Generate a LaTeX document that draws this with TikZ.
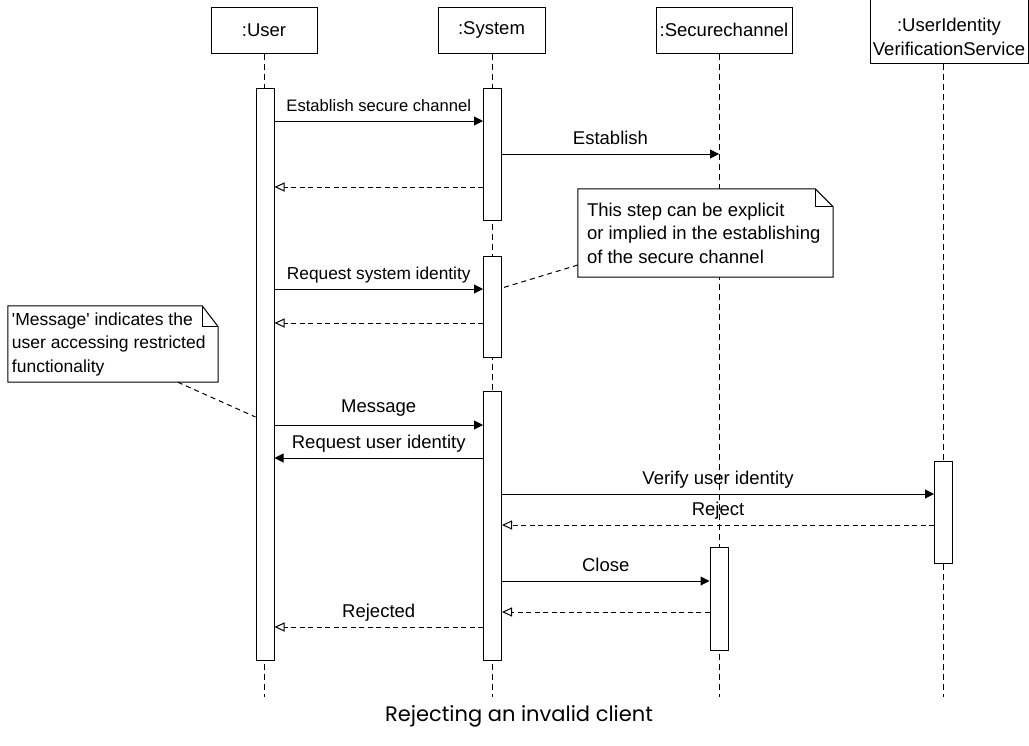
\documentclass[tikz,border=0pt]{standalone}
\usepackage{fontspec}
\newfontfamily\diagfont{Liberation Sans}
\newfontfamily\capfont{Poppins}
\usetikzlibrary{arrows.meta}

\begin{document}
\begin{tikzpicture}[x=1pt,y=-1pt,
  every node/.style={font=\diagfont\fontsize{18.5}{23.5}\selectfont},
  obj/.style={draw, line width=1pt, fill=white, inner sep=0pt, align=center},
  actbar/.style={draw, line width=1pt, fill=white, minimum width=18pt, inner sep=0pt},
  life/.style={line width=1pt, dash pattern=on 6pt off 4pt},
  call/.style={line width=1pt, -{Triangle[length=9pt,width=9pt]}},
  reply/.style={line width=1pt, dash pattern=on 5pt off 3.5pt, -{Triangle[open,length=10pt,width=9pt]}},
  lbl/.style={midway, anchor=base, yshift=10pt, inner sep=0pt},
  notebox/.style={inner sep=0pt},
  notetext/.style={inner sep=0pt, align=left, anchor=west},
  noteline/.style={line width=1pt},
  notelink/.style={line width=1pt, dash pattern=on 5pt off 4pt}]

\useasboundingbox (0,0) rectangle (1029,745);

% object heads
\node[obj, minimum width=106pt, minimum height=46pt] (uBox) at (264,30) {:User};
\node[obj, minimum width=107pt, minimum height=46pt] (sBox) at (491.5,30) {:System};
\node[obj, minimum width=136pt, minimum height=46pt] (cBox) at (724,30) {:Securechannel};
\node[obj, minimum width=158pt, minimum height=65pt] (vBox) at (949,30.5) {};
\node[align=center, inner sep=0pt] (vTxt) at (949,37) {:UserIdentity\\VerificationService};

% lifeline ends
\coordinate (uE) at (264,697);
\coordinate (sE) at (492.5,697);
\coordinate (cE) at (719,697);
\coordinate (vE) at (943.5,697);

\draw[life] (uBox.south -| uE) -- (uE);
\draw[life] (sBox.south -| sE) -- (sE);
\draw[life] (cBox.south -| cE) -- (cE);
\draw[life] (vBox.south -| vE) -- (vE);

% activation bars
\node[actbar, minimum height=572pt] (uA) at (265,374) {};
\node[actbar, minimum height=132pt] (sA) at (492.5,154) {};
\node[actbar, minimum height=101pt] (sB) at (492.5,306.5) {};
\node[actbar, minimum height=269pt] (sC) at (492.5,525.5) {};
\node[actbar, minimum height=103pt] (cA) at (719,598.5) {};
\node[actbar, minimum height=102pt] (vA) at (943.5,512) {};

% messages
\draw[call] (uA.east |- 0,121) -- (sA.west |- 0,121)
  node[lbl, font=\diagfont\fontsize{16.6}{20}\selectfont] {Establish secure channel};
\draw[call] (sA.east |- 0,154) -- (cE |- 0,154) node[lbl] {Establish};
\draw[reply] (sA.west |- 0,187) -- (uA.east |- 0,187);

\draw[call] (uA.east |- 0,289) -- (sB.west |- 0,289)
  node[lbl, font=\diagfont\fontsize{17.3}{20}\selectfont] {Request system identity};
\draw[reply] (sB.west |- 0,323) -- (uA.east |- 0,323);

\draw[call] (uA.east |- 0,425) -- (sC.west |- 0,425) node[lbl, yshift=3pt] {Message};
\draw[call] (sC.west |- 0,458) -- (uA.east |- 0,458) node[lbl] {Request user identity};
\draw[call] (sC.east |- 0,494) -- (vA.west |- 0,494) node[lbl] {Verify user identity};
\draw[reply] (vA.west |- 0,525) -- (sC.east |- 0,525) node[lbl] {Reject};
\draw[call] (sC.east |- 0,581) -- (cA.west |- 0,581) node[lbl] {Close};
\draw[reply] (cA.west |- 0,612) -- (sC.east |- 0,612);
\draw[reply] (sC.west |- 0,627) -- (uA.east |- 0,627) node[lbl] {Rejected};

% note on the system identity step (white sheet with a folded corner)
\node[notebox, minimum width=255pt, minimum height=88pt] (n1) at (705.5,233) {};
\draw[noteline, fill=white] (n1.north west) -- ([xshift=-18pt]n1.north east)
  -- ([yshift=-18pt]n1.north east) -- (n1.south east) -- (n1.south west) -- cycle;
\draw[noteline] ([xshift=-18pt]n1.north east) -- ([xshift=-18pt,yshift=-18pt]n1.north east)
  -- ([yshift=-18pt]n1.north east);
\node[notetext] (n1t) at ([xshift=9pt]n1.west)
  {This step can be explicit\\or implied in the establishing\\of the secure channel};
\draw[notelink] (n1.west |- 0,265) -- (sB.east |- 0,288);

% note on the restricted message
\node[notebox, minimum width=210pt, minimum height=76pt] (n2) at (113,344) {};
\draw[noteline, fill=white] (n2.north west) -- ([xshift=-16pt]n2.north east)
  -- ([yshift=-21pt]n2.north east) -- (n2.south east) -- (n2.south west) -- cycle;
\draw[noteline] ([xshift=-16pt]n2.north east) -- ([xshift=-16pt,yshift=-21pt]n2.north east)
  -- ([yshift=-21pt]n2.north east);
\node[notetext, font=\diagfont\fontsize{17.5}{23.5}\selectfont] (n2t) at ([xshift=4pt]n2.west)
  {\textquotesingle Message\textquotesingle{} indicates the\\user accessing restricted\\functionality};
\draw[notelink] ([xshift=170pt]n2.south west) -- (uA.west |- 0,417);

% caption
\node[font=\capfont\fontsize{21}{25}\selectfont, anchor=base, inner sep=0pt] (cap) at (519,721)
  {Rejecting an invalid client};
\end{tikzpicture}
\end{document}
